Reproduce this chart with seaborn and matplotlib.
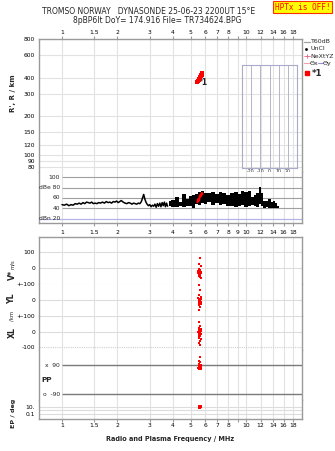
import matplotlib
matplotlib.use("Agg")
import matplotlib.pyplot as plt
from matplotlib.lines import Line2D
from matplotlib.ticker import NullLocator
import seaborn as sns

W, H = 335, 451

# ---- axis ticks -------------------------------------------------------
freq_ticks = [1, 1.5, 2, 3, 4, 5, 6, 7, 8, 9, 10, 12, 14, 16, 18]
freq_labels_short = ["1", "1.5", "2", "3", "4", "5", "6", "7", "8", "", "10", "12", "14", "16", "18"]
freq_labels_full = ["1", "1.5", "2", "3", "4", "5", "6", "7", "8", "9", "10", "12", "14", "16", "18"]
height_ticks = [80, 90, 100, 120, 150, 200, 300, 400, 600, 800]
db_ticks = [100, 80, 60, 40]
db_labels = ["100", "dBe 80", "60", "40"]
noise_db = 20
tilt_ticks = [-20, -10, 0, 10, 20]

# ---- echo trace (virtual height) ---------------------------------------
echo_freq = [5.45, 5.48, 5.52, 5.55, 5.58, 5.6, 5.63, 5.66, 5.7, 5.73, 5.76, 5.8, 5.78, 5.74]
echo_height = [372, 378, 384, 390, 395, 400, 405, 410, 416, 422, 428, 433, 424, 430]
tag_freq, tag_height = 5.52, 368

# ---- amplitude: quiet low-frequency part --------------------------------
amp_freq = [1.0, 1.03, 1.06, 1.09, 1.12, 1.15, 1.18, 1.21, 1.24, 1.27, 1.3, 1.33,
            1.36, 1.39, 1.42, 1.45, 1.48, 1.51, 1.55, 1.58, 1.62, 1.66, 1.7, 1.74,
            1.78, 1.82, 1.86, 1.9, 1.94, 1.98, 2.02, 2.06, 2.1, 2.15, 2.2, 2.25,
            2.3, 2.35, 2.4, 2.45, 2.5, 2.55, 2.6, 2.65, 2.7, 2.74, 2.78, 2.82,
            2.86, 2.9, 2.95, 3.0, 3.05, 3.1, 3.15, 3.2, 3.25, 3.3, 3.35, 3.4,
            3.45, 3.5, 3.55, 3.6, 3.65, 3.7, 3.75]
amp_db = [47, 46, 48, 45, 47, 46, 49, 48, 50, 48, 51, 49,
          52, 51, 50, 52, 49, 50, 49, 51, 50, 52, 50, 53,
          51, 52, 50, 53, 52, 54, 51, 53, 55, 52, 50, 49,
          51, 50, 48, 50, 49, 48, 50, 49, 53, 60, 67, 58,
          52, 48, 45, 47, 43, 46, 44, 48, 42, 49, 44, 50,
          43, 51, 45, 52, 43, 50, 44]

# ---- amplitude: busy part, lower / upper envelope -----------------------
env_freq = [3.8, 3.85, 4.0, 4.2, 4.4, 4.6, 4.8, 5.0, 5.2, 5.4, 5.6, 5.8, 6.0,
            6.3, 6.6, 7.0, 7.3, 7.6, 8.0, 8.4, 8.8, 9.2, 9.6, 10.0, 10.4, 10.8,
            11.2, 11.6, 11.9, 12.2, 12.6, 13.0, 13.4, 13.8, 14.2, 14.6, 15.0, 15.3]
env_lo = [42, 44, 42, 43, 45, 42, 44, 45, 41, 48, 46, 50, 48,
          52, 47, 50, 46, 48, 44, 45, 42, 44, 46, 42, 44, 46,
          44, 42, 48, 44, 41, 42, 40, 41, 40, 41, 40, 40]
env_hi = [74, 55, 57, 62, 52, 68, 58, 64, 66, 68, 72, 74, 70,
          70, 72, 68, 72, 70, 66, 70, 72, 68, 74, 71, 73, 62,
          66, 70, 82, 70, 55, 54, 58, 52, 54, 50, 44, 41]

echo_amp_freq = [5.45, 5.5, 5.55, 5.6, 5.65, 5.7, 5.75, 5.8]
echo_amp_db = [52, 58, 55, 62, 66, 64, 70, 68]

# ---- lower panel: velocity, location, polarisation, elevation -----------
vstar_freq = [5.62, 5.55, 5.66, 5.52, 5.58, 5.64, 5.5, 5.6, 5.7, 5.55, 5.64, 5.5,
              5.58, 5.68, 5.6, 5.53, 5.62, 5.57, 5.6, 5.66]
vstar = [62, 27, 15, -4, -8, -12, -15, -18, -20, -22, -25, -28,
         -30, -32, -35, -38, -42, -48, -54, -58]
yl_freq = [5.58, 5.62, 5.55, 5.66, 5.5, 5.6, 5.7, 5.54, 5.64, 5.58, 5.68, 5.52,
           5.6, 5.66, 5.56, 5.62, 5.58]
yl = [95, 62, 30, 22, 15, 10, 6, 2, -2, -6, -10, -15, -20, -26, -32, -45, -62]
xl_freq = [5.56, 5.6, 5.52, 5.66, 5.58, 5.7, 5.5, 5.62, 5.56, 5.68, 5.54, 5.6,
           5.64, 5.52, 5.58, 5.66, 5.6, 5.56, 5.62]
xl = [64, 35, 24, 18, 10, 4, 0, -5, -10, -16, -20, -26, -30, -36, -42, -50, -60, -75, -85]
pp_freq = [5.6, 5.58, 5.62, 5.55, 5.6, 5.66, 5.52, 5.58, 5.64, 5.7, 5.55, 5.6,
           5.66, 5.5, 5.62, 5.72, 5.56, 5.64]
pp = [140, 120, 108, 98, 92, 90, 88, 85, 82, 80, 78, 76, 74, 72, 70, 68, 66, 64]
ep_freq = [5.52, 5.56, 5.6, 5.64, 5.68, 5.72, 5.55, 5.6, 5.65, 5.7, 5.58, 5.62]
ep = [20, 18, 16, 14, 12, 15, 8, 9, 7, 10, 5, 6]

# ---- styling ------------------------------------------------------------
sns.set_style("white")
plt.rcParams["font.family"] = ["DejaVu Sans"]
FRAME = "#9a9a9a"
GRID = "#e2e2e2"
TICK_FS = 4.3
DOT = 4

XLEFT, XRIGHT = 39.3, 302
FMIN, FMAX = 0.753, 20.15

fig = plt.figure(figsize=(W / 100, H / 100), dpi=100)


def fig_xy(x, y):
    return x / W, 1 - y / H


def make_ax(y0, y1, hide=()):
    ax = fig.add_axes([XLEFT / W, 1 - y1 / H, (XRIGHT - XLEFT) / W, (y1 - y0) / H])
    ax.set_xscale("log")
    ax.set_xlim(FMIN, FMAX)
    ax.xaxis.set_minor_locator(NullLocator())
    ax.set_xticks(freq_ticks)
    ax.set_xticklabels([])
    ax.tick_params(axis="both", length=0, labelsize=TICK_FS, pad=3, colors="black")
    ax.set_facecolor("white")
    for name, sp in ax.spines.items():
        sp.set_color(FRAME)
        sp.set_linewidth(1.0)
        if name in hide:
            sp.set_visible(False)
    for f in freq_ticks:
        ax.axvline(f, color=GRID, lw=0.8, zorder=0)
    return ax


def scatter(ax, xs, ys, size=DOT):
    sns.scatterplot(x=xs, y=ys, ax=ax, marker="s", s=size, color="red", linewidth=0,
                    legend=False, zorder=4)
    ax.set_xlabel("")
    ax.set_ylabel("")


# ---- virtual height panel -----------------------------------------------
ax_h = make_ax(39.3, 172, hide=("bottom",))
ax_h.set_yscale("log")
ax_h.yaxis.set_minor_locator(NullLocator())
ax_h.set_ylim(73.5, 800)
ax_h.set_yticks(height_ticks)
ax_h.set_yticklabels([str(v) for v in height_ticks])
for v in height_ticks:
    ax_h.axhline(v, color=GRID, lw=0.8, zorder=0)
ax_h.xaxis.tick_top()
ax_h.set_xticklabels(freq_labels_short)
ax_h.tick_params(axis="x", top=True, length=2, direction="out", pad=1.2, color=FRAME)
scatter(ax_h, echo_freq, echo_height, size=7)
ax_h.text(tag_freq, tag_height, "*1", fontsize=5.5, fontweight="bold", va="center", ha="left")

# tilt inset
ax_t = fig.add_axes([241.7 / W, 1 - 167.7 / H, (297.3 - 241.7) / W, (167.7 - 65) / H])
ax_t.set_xlim(-30, 30)
ax_t.set_ylim(0, 1)
ax_t.set_yticks([])
ax_t.set_xticks(tilt_ticks)
ax_t.set_xticklabels([str(v) for v in tilt_ticks])
ax_t.tick_params(axis="x", length=0, labelsize=3.4, pad=0.8)
ax_t.set_xlabel("Tilt / deg", fontsize=3.4, labelpad=0.3)
for sp in ax_t.spines.values():
    sp.set_color("#aaaacc")
    sp.set_linewidth(0.8)
for t in tilt_ticks:
    ax_t.axvline(t, color="#b4b4cc", lw=0.7)
ax_t.patch.set_alpha(0)

# ---- amplitude panel ----------------------------------------------------
ax_db = make_ax(172, 222.5, hide=("top",))
ax_db.set_ylim(12.2, 110.7)
ax_db.set_yticks([])
ax_db.hlines(db_ticks, 1, FMAX, color="#a0a0a0", lw=0.8, zorder=1)
ax_db.axhline(noise_db, color="#b4b4e6", lw=0.9, zorder=1)
for v, lab in zip(db_ticks, db_labels):
    ax_db.text(0.975, v, lab, ha="right", va="center", fontsize=TICK_FS)
ax_db.text(0.975, noise_db, "dBn 20", ha="right", va="center", fontsize=TICK_FS)
sns.lineplot(x=amp_freq, y=amp_db, ax=ax_db, color="black", lw=1.1, estimator=None, zorder=3)
ax_db.fill_between(env_freq, env_lo, env_hi, step="mid", color="black", lw=0, zorder=3)
sns.lineplot(x=echo_amp_freq, y=echo_amp_db, ax=ax_db, color="red", lw=1.6, estimator=None, zorder=4)
ax_db.set_xticklabels(freq_labels_full)
ax_db.tick_params(axis="x", bottom=True, length=2, direction="out", pad=3.2, color=FRAME)
ax_db.set_xlabel("")
ax_db.set_ylabel("")

# ---- lower panel: stacked strips -----------------------------------------
ax_v = make_ax(237.3, 284.3, hide=("bottom",))
ax_v.set_ylim(-100, 193.75)
ax_v.set_yticks([100, 0])
ax_v.set_yticklabels(["100", "0"])
ax_v.hlines([100, 0, -100], FMIN, FMAX, color="#dcdcdc", lw=0.8, zorder=1)
scatter(ax_v, vstar_freq, vstar)

ax_yl = make_ax(284.3, 316, hide=("top", "bottom"))
ax_yl.set_ylim(-100, 100)
ax_yl.set_yticks([100, 0])
ax_yl.set_yticklabels(["+-100", "0"])
ax_yl.hlines([0], FMIN, FMAX, color="#dcdcdc", lw=0.8, zorder=1)
scatter(ax_yl, yl_freq, yl)

ax_xl = make_ax(316, 350, hide=("top", "bottom"))
ax_xl.set_ylim(-117.3, 100.6)
ax_xl.set_yticks([100, 0, -100])
ax_xl.set_yticklabels(["+-100", "0", "-100"])
ax_xl.hlines([100, 0], FMIN, FMAX, color="#dcdcdc", lw=0.8, zorder=1)
ax_xl.hlines([-100], FMIN, FMAX, color="#cfcfcf", lw=0.8, linestyles=(0, (1, 1)), zorder=1)
scatter(ax_xl, xl_freq, xl)

ax_pp = make_ax(350, 400, hide=("top", "bottom"))
ax_pp.set_ylim(-127.6, 186)
ax_pp.set_yticks([])
ax_pp.hlines([90, -90], 1, FMAX, color="#7a7a7a", lw=1.0, zorder=1)
ax_pp.text(0.975, 90, "x  90", ha="right", va="center", fontsize=TICK_FS)
ax_pp.text(0.975, -90, "o  -90", ha="right", va="center", fontsize=TICK_FS)
ax_pp.text(0.825, -5, "PP", ha="center", va="center", fontsize=5.2, fontweight="bold")
scatter(ax_pp, pp_freq, pp)

ax_ep = make_ax(400, 419.3, hide=("top",))
ax_ep.set_yscale("log")
ax_ep.yaxis.set_minor_locator(NullLocator())
ax_ep.set_ylim(0.00483, 580)
ax_ep.set_yticks([10, 0.1])
ax_ep.set_yticklabels(["10.", "0.1"])
ax_ep.hlines([10, 1, 0.1], FMIN, FMAX, color="#dcdcdc", lw=0.8, zorder=1)
scatter(ax_ep, ep_freq, ep)
ax_ep.set_xticklabels(freq_labels_short)
ax_ep.tick_params(axis="x", bottom=True, length=2, direction="out", pad=1.0, color=FRAME)

# ---- titles and side labels -------------------------------------------
fig.text(*fig_xy(149, 11.8), "TROMSO NORWAY   DYNASONDE 25-06-23 2200UT 15°E",
         ha="center", va="center", fontsize=5.5)
fig.text(*fig_xy(157.5, 20.2), "8pBP6It DoY= 174.916 File= TR734624.BPG",
         ha="center", va="center", fontsize=5.5)
fig.text(*fig_xy(302.5, 7.2), "HPTx is OFF!", ha="center", va="center", fontsize=5.6,
         family="DejaVu Sans Mono", color="red",
         bbox=dict(facecolor="#ffff00", edgecolor="#ff3000", boxstyle="square,pad=0.2", lw=0.8))

fig.text(*fig_xy(13.5, 93), "R', R / km", rotation=90, ha="center", va="center",
         fontsize=5.0, fontweight="bold")
fig.text(*fig_xy(12, 275), "V*", rotation=90, ha="center", va="center", fontsize=5.6,
         fontweight="bold")
fig.text(*fig_xy(12.5, 264), "m/s", rotation=90, ha="center", va="center", fontsize=3.8)
fig.text(*fig_xy(12, 298.5), "YL", rotation=90, ha="center", va="center", fontsize=5.6,
         fontweight="bold")
fig.text(*fig_xy(12.5, 316), "/km", rotation=90, ha="center", va="center", fontsize=3.8)
fig.text(*fig_xy(12, 333), "XL", rotation=90, ha="center", va="center", fontsize=5.6,
         fontweight="bold")
fig.text(*fig_xy(13, 413), "EP / deg", rotation=90, ha="center", va="center", fontsize=4.6,
         fontweight="bold")
fig.text(*fig_xy(170, 438.7), "Radio and Plasma Frequency / MHz", ha="center", va="center",
         fontsize=4.7, fontweight="bold")

# ---- key at the right ---------------------------------------------------
LEG_FS = 4.5


def key_line(x0, x1, y, color, **kw):
    fig.add_artist(Line2D([x0 / W, x1 / W], [1 - y / H, 1 - y / H], transform=fig.transFigure,
                          color=color, **kw))


key_line(303.5, 309.5, 41.7, "#a0a0a0", lw=0.9)
fig.text(*fig_xy(310.5, 41.7), "T60dB", ha="left", va="center", fontsize=LEG_FS)
fig.add_artist(Line2D([306 / W], [1 - 48.9 / H], transform=fig.transFigure, marker="s",
                      markersize=0.9, color="black", lw=0))
fig.text(*fig_xy(310.5, 48.9), "UnCl", ha="left", va="center", fontsize=LEG_FS)
key_line(303.5, 309.5, 56, "#f0a0b0", lw=0.8)
fig.add_artist(Line2D([306.5 / W], [1 - 56 / H], transform=fig.transFigure, marker="+",
                      markersize=3, color="#e07090", lw=0, mew=0.7))
fig.text(*fig_xy(310, 56), "NeXtYZ", ha="left", va="center", fontsize=LEG_FS)
key_line(303.5, 309.5, 63.2, "#f0a0b0", lw=0.8)
fig.text(*fig_xy(309.5, 63.2), "Θx", ha="left", va="center", fontsize=LEG_FS)
key_line(317.5, 323, 63.2, "#9090e0", lw=0.8)
fig.text(*fig_xy(323, 63.2), "Θy", ha="left", va="center", fontsize=LEG_FS)
fig.add_artist(Line2D([306.7 / W], [1 - 73.3 / H], transform=fig.transFigure, marker="s",
                      markersize=2.2, color="red", lw=0))
fig.text(*fig_xy(311.5, 73.6), "*1", ha="left", va="center", fontsize=6.2, fontweight="bold")

fig.savefig("out.png", dpi=100, facecolor="white")
